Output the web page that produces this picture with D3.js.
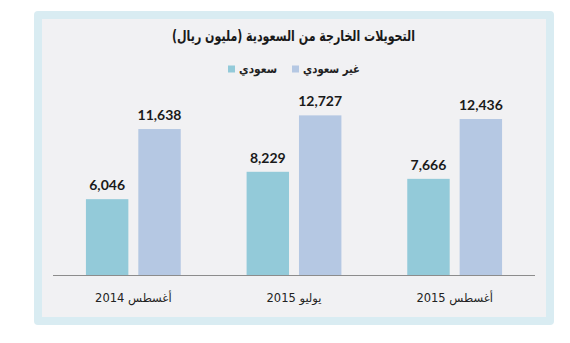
<!DOCTYPE html>
<html>
<head>
<meta charset="utf-8">
<script src="https://cdn.jsdelivr.net/npm/d3@7/dist/d3.min.js"></script>
<style>
  html, body { margin: 0; padding: 0; background: #ffffff; }
  svg { display: block; }
</style>
</head>
<body>
<svg id="chart" width="570" height="343"></svg>
<script>
// Outgoing remittances from Saudi Arabia (million riyals)
const title = "التحويلات الخارجة من السعودية (مليون ريال)";
const categories = ["أغسطس 2014", "يوليو 2015", "أغسطس 2015"];
const seriesNames = ["سعودي", "غير سعودي"];
const saudi = [6046, 8229, 7666];
const nonSaudi = [11638, 12727, 12436];
const seriesColors = ["#93cad9", "#b5c8e3"];

const rows = categories.map((c, i) => ({ cat: c, values: [saudi[i], nonSaudi[i]] }));

const svg = d3.select("#chart");

// framed panel
svg.append("rect").attr("x", 34).attr("y", 11).attr("width", 520).attr("height", 314)
  .attr("rx", 4).attr("fill", "#d9ecf2");
svg.append("rect").attr("x", 42).attr("y", 19).attr("width", 504).attr("height", 298)
  .attr("fill", "#f1f1f3");

const arabicFont = "'DejaVu Sans', sans-serif";
const numFont = "Lato, 'Open Sans', sans-serif";

// title
svg.append("text")
  .attr("x", 293.5).attr("y", 41)
  .attr("direction", "rtl")
  .attr("text-anchor", "middle")
  .attr("font-family", arabicFont)
  .attr("font-weight", "bold")
  .attr("font-size", 15)
  .attr("textLength", 243)
  .attr("lengthAdjust", "spacingAndGlyphs")
  .attr("fill", "#1a1a1a")
  .text(title);

// legend (right to left)
const legendItems = [
  { name: seriesNames[1], color: seriesColors[1], right: 360, len: 57 },
  { name: seriesNames[0], color: seriesColors[0], right: 277, len: 38 }
];
legendItems.forEach(it => {
  svg.append("text")
    .attr("x", it.right - it.len / 2).attr("y", 73)
    .attr("direction", "rtl")
    .attr("text-anchor", "middle")
    .attr("font-family", arabicFont)
    .attr("font-weight", "bold")
    .attr("font-size", 12)
    .attr("textLength", it.len)
    .attr("lengthAdjust", "spacingAndGlyphs")
    .attr("fill", "#222")
    .text(it.name);
  svg.append("rect")
    .attr("x", it.right - it.len - 11).attr("y", 65.5)
    .attr("width", 7).attr("height", 7)
    .attr("fill", it.color);
});

// scales
const x0 = d3.scaleBand().domain(categories).range([53, 535])
  .paddingInner(0.41).paddingOuter(0.205);
const x1 = d3.scaleBand().domain(d3.range(seriesNames.length)).range([0, x0.bandwidth()])
  .paddingInner(0.19).paddingOuter(0);
const y = d3.scaleLinear().domain([0, 14000]).range([275, 99.4]);

const groups = svg.append("g").selectAll("g")
  .data(rows).join("g")
  .attr("transform", d => `translate(${x0(d.cat)},0)`);

groups.selectAll("rect")
  .data(d => d.values.map((v, i) => ({ v, i })))
  .join("rect")
  .attr("x", d => x1(d.i))
  .attr("y", d => y(d.v))
  .attr("width", x1.bandwidth())
  .attr("height", d => y(0) - y(d.v))
  .attr("fill", d => seriesColors[d.i]);

groups.selectAll("text.val")
  .data(d => d.values.map((v, i) => ({ v, i })))
  .join("text")
  .attr("class", "val")
  .attr("x", d => x1(d.i) + x1.bandwidth() / 2)
  .attr("y", d => y(d.v) - 9)
  .attr("text-anchor", "middle")
  .attr("font-family", numFont)
  .attr("font-weight", "bold")
  .attr("font-size", 14)
  .attr("fill", "#1a1a1a")
  .text(d => d3.format(",")(d.v));

// category axis
const axis = svg.append("g").attr("transform", `translate(0,${y(0)})`)
  .call(d3.axisBottom(x0).tickSize(0).tickPadding(19));
axis.select(".domain").attr("stroke", "#8c8c8c").attr("d", "M53,0.5H535");
axis.selectAll("text")
  .attr("direction", "rtl")
  .attr("font-family", arabicFont)
  .attr("font-size", 11.5)
  .attr("fill", "#222");
</script>
</body>
</html>
